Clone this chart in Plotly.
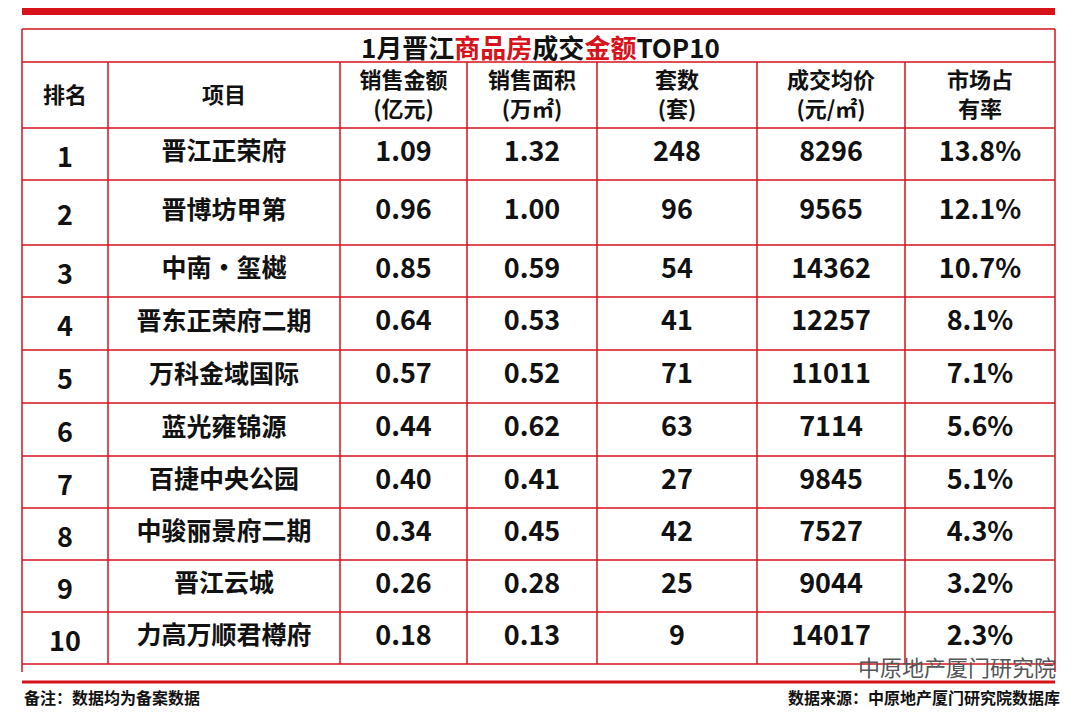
import plotly.graph_objects as go

headers = ["排名", "项目", "销售金额<br>(亿元)", "销售面积<br>(万㎡)", "套数<br>(套)", "成交均价<br>(元/㎡)", "市场占<br>有率"]
ranks = ["1","2","3","4","5","6","7","8","9","10"]
projects = ["晋江正荣府","晋博坊甲第","中南·玺樾","晋东正荣府二期","万科金域国际","蓝光雍锦源","百捷中央公园","中骏丽景府二期","晋江云城","力高万顺君樽府"]
amount = ["1.09","0.96","0.85","0.64","0.57","0.44","0.40","0.34","0.26","0.18"]
area = ["1.32","1.00","0.59","0.53","0.52","0.62","0.41","0.45","0.28","0.13"]
units = ["248","96","54","41","71","63","27","42","25","9"]
price = ["8296","9565","14362","12257","11011","7114","9845","7527","9044","14017"]
share = ["13.8%","12.1%","10.7%","8.1%","7.1%","5.6%","5.1%","4.3%","3.2%","2.3%"]

RED = "#d7121b"
F = "Noto Sans CJK SC"
xb = [22, 108, 340, 467, 597, 757, 905, 1055]
yb = [128, 180, 245, 297, 350, 403, 456, 508, 560, 612, 664]
xc = [(xb[i]+xb[i+1])/2 for i in range(7)]

fig = go.Figure()
cols = [ranks, projects, amount, area, units, price, share]
for ci, col in enumerate(cols):
    xs = [xc[ci]]*len(col)
    ys = [(yb[i]+yb[i+1])/2 + (6 if ci == 0 else 0) for i in range(len(col))]
    fig.add_trace(go.Scatter(x=xs, y=ys, text=["<b>%s</b>" % v for v in col], mode="text",
                             textfont=dict(family=F, size=27 if ci != 1 else 25, color="#111"),
                             hoverinfo="skip", showlegend=False))
fig.add_trace(go.Scatter(x=xc, y=[97]*7, text=["<b>%s</b>" % h for h in headers], mode="text",
                         textfont=dict(family=F, size=22, color="#111"), hoverinfo="skip", showlegend=False))

shapes = []
shapes.append(dict(type="rect", x0=22, x1=1055, y0=7, y1=15, fillcolor=RED, line_width=0))
shapes.append(dict(type="line", x0=22, x1=1055, y0=29, y1=29, line=dict(color=RED, width=1.5)))
shapes.append(dict(type="line", x0=22, x1=1055, y0=62, y1=62, line=dict(color=RED, width=1.5)))
for y in yb:
    shapes.append(dict(type="line", x0=22, x1=1055, y0=y, y1=y, line=dict(color=RED, width=1.5)))
shapes.append(dict(type="line", x0=22, x1=1055, y0=682, y1=682, line=dict(color=RED, width=3)))
for i, x in enumerate(xb):
    y0 = 29 if i in (0, 7) else 62
    shapes.append(dict(type="line", x0=x, x1=x, y0=y0, y1=672 if i in (0,7) else 664, line=dict(color=RED, width=1.5)))

ann = [
    dict(x=540, y=46, text="<b>1月晋江<span style='color:%s'>商品房</span>成交<span style='color:%s'>金额</span>TOP10</b>" % (RED, RED),
         font=dict(family=F, size=26, color="#111")),
    dict(x=22, y=697, xanchor="left", text="<b>备注：数据均为备案数据</b>", font=dict(family=F, size=16, color="#111")),
    dict(x=1062, y=697, xanchor="right", text="<b>数据来源：中原地产厦门研究院数据库</b>", font=dict(family=F, size=16, color="#111")),
    dict(x=1058, y=666, xanchor="right", text="中原地产厦门研究院", font=dict(family=F, size=22, color="#555")),
]
for a in ann:
    a.update(showarrow=False, xref="x", yref="y")

fig.update_layout(width=1080, height=716, margin=dict(l=0, r=0, t=0, b=0),
                  plot_bgcolor="white", paper_bgcolor="white", shapes=shapes, annotations=ann,
                  xaxis=dict(range=[8, 1088], visible=False, fixedrange=True),
                  yaxis=dict(range=[724, 8], visible=False, fixedrange=True))
fig.write_html("out.html", config={"displayModeBar": False})
